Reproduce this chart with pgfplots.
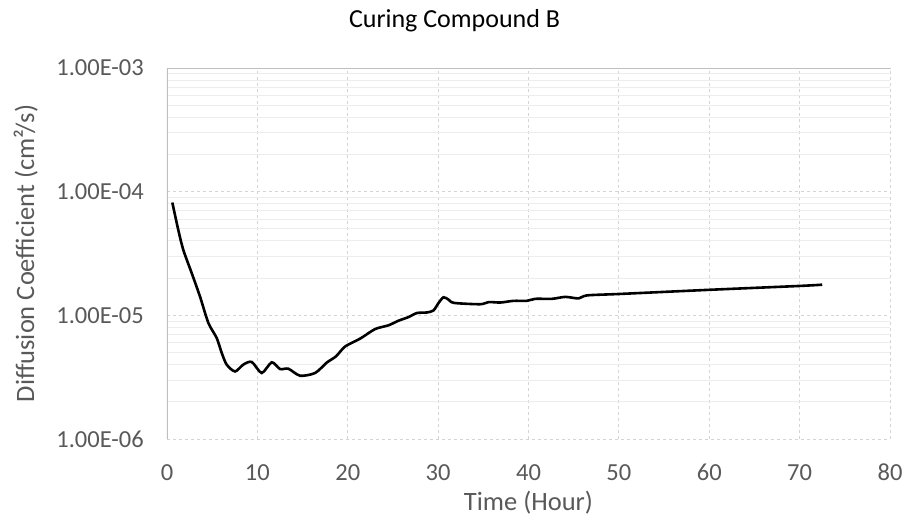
\documentclass[border=0pt]{standalone}
\usepackage{pgfplots}
\pgfplotsset{compat=1.18}
\usepackage{fontspec}
\setmainfont{Carlito}
\definecolor{tickgray}{HTML}{595959}
\definecolor{axgray}{HTML}{BFBFBF}
\definecolor{majgrid}{HTML}{D4D4D4}
\definecolor{mingrid}{HTML}{EDEDED}
\begin{document}
\begin{tikzpicture}
\path[use as bounding box] (-167bp,-88bp) rectangle (742bp,439bp);
\begin{axis}[
  at={(0,0)}, anchor=south west,
  scale only axis, width=723bp, height=371bp,
  xmin=0, xmax=80, ymode=log, ymin=1e-6, ymax=1e-3,
  xtick={0,10,...,80},
  ytick={1e-6,1e-5,1e-4,1e-3},
  yticklabels={1.00E-06,1.00E-05,1.00E-04,1.00E-03},
  minor ytick={2e-6,3e-6,4e-6,5e-6,6e-6,7e-6,8e-6,9e-6,2e-5,3e-5,4e-5,5e-5,6e-5,7e-5,8e-5,9e-5,2e-4,3e-4,4e-4,5e-4,6e-4,7e-4,8e-4,9e-4},
  /pgf/number format/assume math mode=true,
  major tick length=0pt, minor tick length=0pt,
  axis line style={draw=none},
  grid=both,
  major grid style={majgrid, dashed, line width=0.8bp},
  minor grid style={mingrid, line width=0.8bp},
  xmajorgrids, ymajorgrids, yminorgrids,
  xticklabel style={font=\fontsize{24.5bp}{28bp}\selectfont, text=tickgray, inner sep=0pt, anchor=north, yshift=-25bp},
  yticklabel style={font=\fontsize{24.5bp}{28bp}\selectfont, text=tickgray, inner sep=0pt, anchor=east, xshift=-23bp},
  xlabel={Time (Hour)},
  ylabel={Diffusion Coefficient (cm²/s)},
  title={Curing Compound B},
  every axis x label/.style={at={(axis description cs:0.5,0)}, anchor=north, inner sep=0pt, yshift=-52bp, font=\fontsize{26.5bp}{30bp}\selectfont, text=tickgray},
  every axis y label/.style={at={(axis description cs:-0.1784,0.5)}, rotate=90, anchor=south, inner sep=0pt, font=\fontsize{26.5bp}{30bp}\selectfont, text=tickgray},
  every axis title/.style={at={(axis description cs:0.3977,1)}, anchor=base, inner sep=0pt, yshift=41bp, font=\fontsize{26bp}{30bp}\selectfont, text=black},
]
\addplot[black, line width=2.6bp, smooth, tension=0.45] coordinates {
(0.59,8.17e-5)
(1.25,4.9e-5)
(1.8,3.39e-5)
(2.73,2.2e-5)
(3.65,1.42e-5)
(4.58,8.67e-6)
(5.5,6.56e-6)
(6.06,4.96e-6)
(6.61,3.99e-6)
(7.53,3.52e-6)
(8.45,4.0e-6)
(9.38,4.2e-6)
(10.48,3.42e-6)
(11.59,4.17e-6)
(12.51,3.68e-6)
(13.43,3.7e-6)
(14.73,3.25e-6)
(16.39,3.42e-6)
(17.68,4.15e-6)
(18.7,4.66e-6)
(19.71,5.6e-6)
(21.4,6.5e-6)
(23.03,7.75e-6)
(24.5,8.3e-6)
(25.6,9.04e-6)
(26.72,9.68e-6)
(27.65,1.044e-5)
(28.76,1.055e-5)
(29.49,1.096e-5)
(30.05,1.26e-5)
(30.6,1.40e-5)
(31.15,1.34e-5)
(31.78,1.26e-5)
(34.66,1.23e-5)
(35.58,1.28e-5)
(36.9,1.27e-5)
(38.35,1.31e-5)
(39.83,1.31e-5)
(40.75,1.36e-5)
(42.6,1.36e-5)
(44.08,1.41e-5)
(45.55,1.37e-5)
(46.48,1.45e-5)
(50.17,1.49e-5)
(60.13,1.61e-5)
(70.1,1.73e-5)
(72.5,1.77e-5)
};
\draw[axgray, line width=2bp] (rel axis cs:0,0) -- (rel axis cs:0,1) -- (rel axis cs:1,1);
\end{axis}
\end{tikzpicture}
\end{document}
